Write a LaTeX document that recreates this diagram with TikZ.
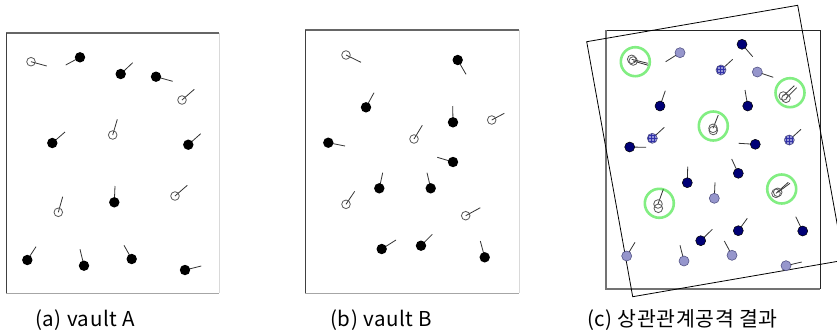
\documentclass[tikz,border=0pt]{standalone}
\usepackage{fontspec}
\setmainfont{Noto Sans CJK KR}
\newfontfamily\capfont[LetterSpace=3]{Noto Sans CJK KR}
\usetikzlibrary{patterns}
\definecolor{navyc}{RGB}{0,0,118}
\definecolor{lavc}{RGB}{150,150,204}
\definecolor{lavline}{RGB}{85,85,135}
\definecolor{hatchc}{RGB}{150,150,215}
\definecolor{gridc}{RGB}{50,50,170}
\definecolor{ringc}{RGB}{130,238,130}
\tikzset{
  stick/.style={line width=0.8pt, draw=black!80},
  opencirc/.style={line width=0.8pt, draw=black!65},
  ring/.style={line width=2.6pt, draw=ringc},
  caption/.style={anchor=base west, inner sep=0pt, font=\capfont\fontsize{20.5}{22}\selectfont},
  frameA/.style={line width=1.3pt, draw=black!60},
  frameL/.style={line width=1pt, draw=black!75},
  frameF/.style={line width=0.8pt, draw=black!15},
  frameB/.style={line width=1pt, draw=black!35},
}
\newcommand{\mydot}[4]{\draw[stick] (#1,#2) -- (#3,#4); \fill[black] (#1,#2) circle (5.2pt);}
\newcommand{\myopen}[4]{\draw[stick] (#1,#2) -- (#3,#4); \draw[opencirc] (#1,#2) circle (4.3pt);}
\newcommand{\mynavy}[4]{\draw[stick] (#1,#2) -- (#3,#4); \filldraw[fill=navyc,draw=black,line width=0.5pt] (#1,#2) circle (5pt);}
\newcommand{\mylav}[4]{\draw[stick] (#1,#2) -- (#3,#4); \filldraw[fill=lavc,draw=lavline,line width=0.6pt] (#1,#2) circle (5pt);}
\newcommand{\myhatch}[4]{\draw[stick] (#1,#2) -- (#3,#4); \fill[hatchc] (#1,#2) circle (5pt); \fill[pattern=grid,pattern color=gridc] (#1,#2) circle (5pt); \draw[draw=lavline,line width=0.6pt] (#1,#2) circle (5pt);}
\begin{document}
\begin{tikzpicture}[x=1pt,y=-1pt]
\clip (0,0) rectangle (837,333);
\fill[white] (0,0) rectangle (837,333);
% ---------- panel (a)
\draw[frameF] (219,33) -- (219,293);
\draw[frameB] (6,293) -- (219,293);
\draw[frameA] (6,33) -- (219,33);
\draw[frameL] (6,33) -- (6,293);
\myopen{31}{61.7}{46.7}{66}
\mydot{80}{57.3}{65.7}{65}
\mydot{120.7}{74}{132.7}{62.7}
\mydot{156}{76.7}{172.7}{81.3}
\myopen{182}{100}{194.3}{89.3}
\mydot{52.3}{143}{65}{132}
\myopen{112.7}{135}{117.3}{119.3}
\mydot{188.3}{144.7}{200.7}{133.7}
\myopen{58.3}{212.3}{62.7}{196.7}
\mydot{114.3}{202.3}{115}{186}
\myopen{175}{196}{187.3}{185.3}
\mydot{27.3}{260}{36}{246.7}
\mydot{84}{265.7}{80}{249.3}
\mydot{131.7}{259}{124}{245.3}
\mydot{185}{270}{201.3}{266}
% ---------- panel (b)
\draw[frameF] (519,30) -- (519,293);
\draw[frameB] (305,293) -- (519,293);
\draw[frameA] (305,30) -- (519,30);
\draw[frameL] (305,30) -- (305,293);
\myopen{346}{55}{361}{62.3}
\mydot{457.7}{60}{466}{74.3}
\mydot{366}{107.3}{374}{92.7}
\mydot{453}{122.3}{452.7}{106}
\myopen{491.7}{120}{504.3}{113.3}
\mydot{328.3}{142.7}{345}{146}
\myopen{414}{139}{422.3}{125.3}
\mydot{453}{162}{437.3}{157.3}
\mydot{379.3}{188.3}{382.7}{172.7}
\mydot{430.7}{188.3}{427}{172.7}
\myopen{346}{204.3}{354.7}{191.3}
\myopen{465.7}{215.7}{480.3}{207.7}
\mydot{381.7}{249}{396}{240}
\mydot{421}{245.7}{432.3}{234.3}
\mydot{484.7}{257.3}{480.3}{241}
% ---------- panel (c)
\draw[line width=0.8pt, draw=black!85] (606,30) -- (820,30) -- (820,289);
\draw[line width=1.3pt, draw=black!55] (606,30) -- (606,289) -- (820,289);
\draw[line width=0.8pt, draw=black] (586.7,41.7) -- (797.7,5.3) -- (843.7,260.3) -- (632.7,296.7) -- cycle;
% navy
\mynavy{742}{44.3}{752.7}{56.7}
\mynavy{660}{106}{665.3}{90.7}
\mynavy{747.7}{106}{745}{90}
\mynavy{629.7}{147}{646}{147.3}
\mynavy{755.3}{144.3}{738.7}{143.3}
\mynavy{687.3}{182.7}{687.7}{166.7}
\mynavy{738.3}{173.3}{731.7}{159}
\mynavy{700.7}{240.7}{712.3}{229.3}
\mynavy{738.3}{230.7}{747.3}{218.3}
\mynavy{802.7}{231}{795.7}{216.7}
% lavender
\mylav{680}{52.7}{665.7}{61.7}
\mylav{757.3}{72}{773.3}{77.3}
\mylav{714.3}{198.3}{715}{182.3}
\mylav{626.7}{256}{635}{242.3}
\mylav{684}{261}{680}{245.3}
\mylav{732}{255.3}{724.3}{241}
\mylav{786}{265.7}{801.7}{262}
% hatched
\myhatch{721}{70}{732.7}{59.3}
\myhatch{652.3}{138.3}{664.3}{127.3}
\myhatch{789.3}{140}{801}{129.3}
% matched pairs with rings
\draw[ring] (635.3,61.7) circle (14.5pt);
\draw[stick] (631.7,59.3) -- (647.7,63.3);
\draw[stick] (633.2,61) -- (648,65.2);
\draw[opencirc] (631.7,59.3) circle (4.3pt);
\draw[opencirc] (633.2,61) circle (4.3pt);
\draw[ring] (790,92.7) circle (14.5pt);
\draw[stick] (783.3,96) -- (794.3,85.7);
\draw[stick] (786,98.3) -- (796.7,87.7);
\draw[opencirc] (783.3,96) circle (4.3pt);
\draw[opencirc] (786,98.3) circle (4.3pt);
\draw[ring] (713.3,126) circle (14.5pt);
\draw[stick] (713,128.3) -- (718.3,115);
\draw[opencirc] (713,128.3) circle (4.3pt);
\draw[opencirc] (713.3,130.5) circle (4.3pt);
\draw[ring] (659.3,203.3) circle (14.5pt);
\draw[stick] (658,204) -- (663.3,189.3);
\draw[opencirc] (658,204) circle (4.3pt);
\draw[opencirc] (658.3,208.3) circle (4.3pt);
\draw[ring] (781.7,189) circle (14.5pt);
\draw[stick] (776,193.3) -- (788.3,182.3);
\draw[stick] (777.7,192.3) -- (790,183.3);
\draw[opencirc] (776,193.3) circle (4.3pt);
\draw[opencirc] (777.7,192.3) circle (4.3pt);
% ---------- captions
\node[caption] (capa) at (35,326) {(a) vault A};
\node[caption] (capb) at (330,326) {(b) vault B};
\node[caption] (capc) at (587,326) {(c) 상관관계공격 결과};
\end{tikzpicture}
\end{document}
